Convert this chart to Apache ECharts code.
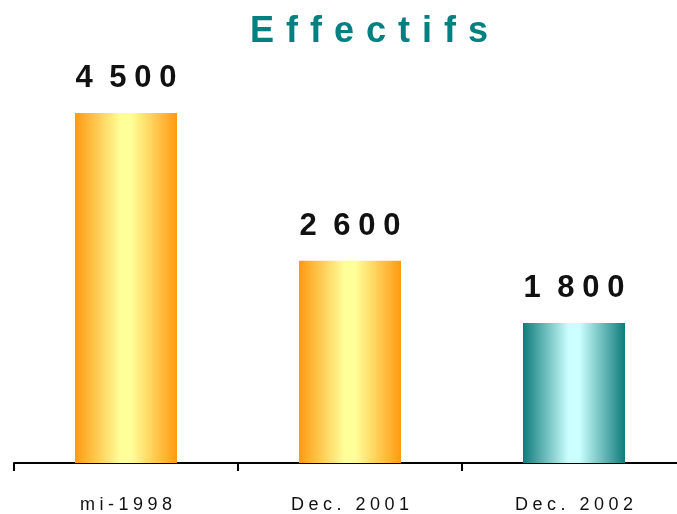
<!DOCTYPE html>
<html>
<head>
<meta charset="utf-8">
<script src="https://cdn.jsdelivr.net/npm/echarts@6/dist/echarts.min.js"></script>
<style>
html,body{margin:0;padding:0;background:#fff;overflow:hidden;width:677px;height:514px;}
#chart{width:690px;height:514px;}
</style>
</head>
<body>
<div id="chart"></div>
<script>
const titleText = "Effectifs";
const categories = ["mi-1998", "Dec. 2001", "Dec. 2002"];
const values = [4500, 2600, 1800];
const valueLabels = ["4 500", "2 600", "1 800"];
const barPalettes = [
  ["#FF9A10", "#FFFF99"],
  ["#FF9A10", "#FFFF99"],
  ["#0E7C7B", "#CCFFFF"]
];

function spaced(str, sp) {
  return Array.from(str).join(sp);
}
function spacedNum(str) {
  return str.split(' ').map(p => spaced(p, '\u2005')).join('\u2005 ');
}

function grad(edge, mid) {
  return new echarts.graphic.LinearGradient(0, 0, 1, 0, [
    {offset: 0, color: edge},
    {offset: 0.45, color: mid},
    {offset: 0.55, color: mid},
    {offset: 1, color: edge}
  ]);
}

const chart = echarts.init(document.getElementById('chart'));
chart.setOption({
  backgroundColor: '#ffffff',
  animation: false,
  title: {
    text: spaced(titleText, '\u2004'),
    left: 245,
    top: 9,
    textStyle: {
      fontFamily: 'Liberation Sans, Arial, sans-serif',
      fontSize: 36,
      fontWeight: 'bold',
      color: '#008080',
      lineHeight: 36
    }
  },
  grid: {left: 14, right: 4, top: 113, bottom: 51, containLabel: false},
  xAxis: {
    type: 'category',
    data: categories,
    axisLine: {show: true, lineStyle: {color: '#000', width: 2}},
    axisTick: {show: true, alignWithLabel: false, interval: 0, length: 8, lineStyle: {color: '#000', width: 2}},
    axisLabel: {
      margin: 33,
      fontFamily: 'Liberation Sans, Arial, sans-serif',
      fontSize: 18,
      lineHeight: 18,
      color: '#111',
      formatter: v => spaced(v, '\u2005')
    }
  },
  yAxis: {
    type: 'value',
    min: 0,
    max: 4500,
    show: false,
    splitLine: {show: false}
  },
  series: [{
    type: 'bar',
    barWidth: 102,
    data: values.map((v, i) => ({
      value: v,
      itemStyle: {color: grad(barPalettes[i][0], barPalettes[i][1])}
    })),
    label: {
      show: true,
      position: 'top',
      distance: 19,
      fontFamily: 'Liberation Sans, Arial, sans-serif',
      fontSize: 31,
      lineHeight: 31,
      fontWeight: 'bold',
      color: '#111',
      formatter: p => spacedNum(valueLabels[p.dataIndex])
    }
  }]
});
</script>
</body>
</html>
